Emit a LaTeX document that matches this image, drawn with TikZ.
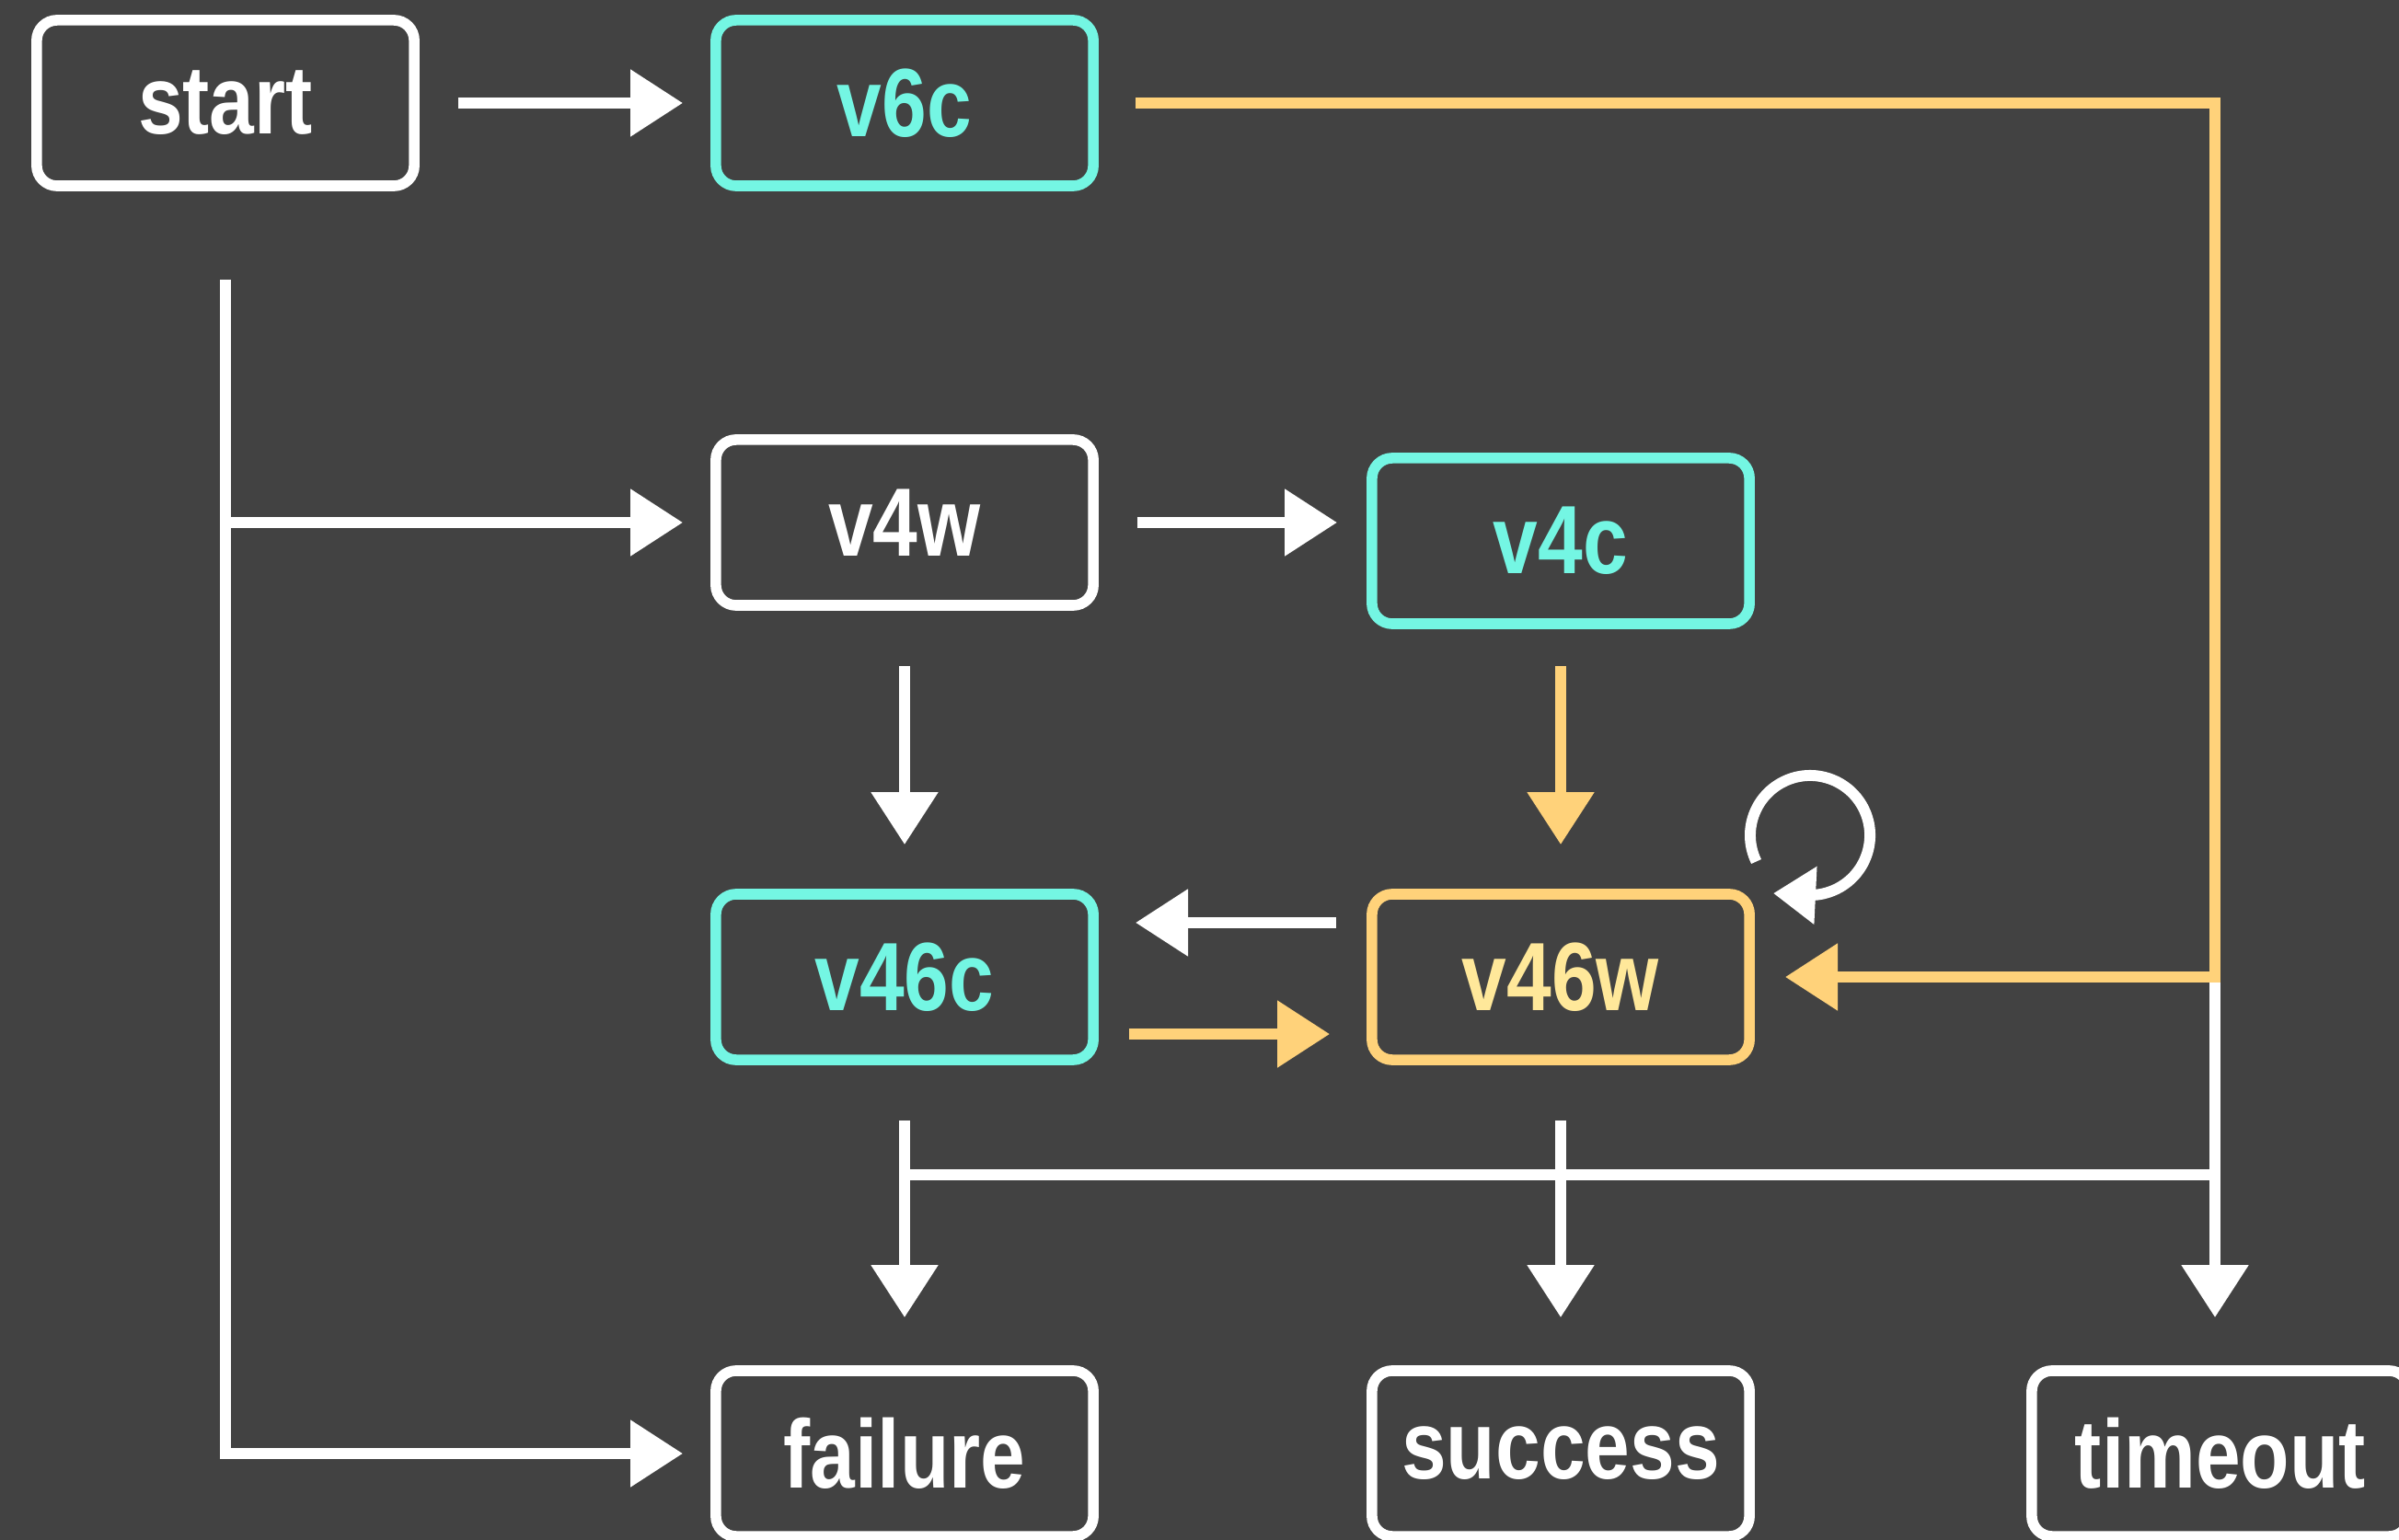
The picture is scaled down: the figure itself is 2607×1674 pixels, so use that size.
\documentclass[tikz,border=0pt]{standalone}
\usepackage{fontspec}
\usepackage{graphicx}
\setmainfont{Liberation Sans}
\usetikzlibrary{arrows.meta,calc}
\definecolor{bg}{HTML}{424242}
\definecolor{chalkw}{HTML}{FFFFFF}
\definecolor{chalkc}{HTML}{74F6E3}
\definecolor{chalky}{HTML}{FFD27A}
\definecolor{texty}{HTML}{FFE89A}
\newcommand{\lbl}[1]{\scalebox{0.83}[1]{#1}}
\tikzset{
  box/.style={draw=chalkw, line width=3.3pt, rounded corners=0.22cm,
    minimum width=4.1cm, minimum height=1.8cm, inner sep=0pt,
    text=chalkw, font=\fontsize{30}{32}\selectfont\bfseries},
  cbox/.style={box, draw=chalkc, text=chalkc},
  ybox/.style={box, draw=chalky, text=texty},
  wline/.style={draw=chalkw, line width=3.4pt},
  yline/.style={draw=chalky, line width=3.4pt},
  tipw/.style={-{Triangle[length=5.7mm,width=7mm]}},
  warr/.style={wline, tipw},
  yarr/.style={yline, tipw},
}
\begin{document}
\begin{tikzpicture}[x=0.01cm,y=-0.01cm]
\fill[bg] (0,0) rectangle (2607,1674);
\useasboundingbox (0,0) rectangle (2607,1674);

\node[box]  (start)   at (245,112)  {\lbl{start}};
\node[cbox] (v6c)     at (983,112)  {\lbl{v6c}};
\node[box]  (v4w)     at (983,568)  {\lbl{v4w}};
\node[cbox] (v4c)     at (1696,588) {\lbl{v4c}};
\node[cbox] (v46c)    at (983,1062) {\lbl{v46c}};
\node[ybox] (v46w)    at (1696,1062){\lbl{v46w}};
\node[box]  (failure) at (983,1580) {\lbl{failure}};
\node[box]  (success) at (1696,1580){\lbl{success}};
\node[box]  (timeout) at (2413,1580){\lbl{timeout}};

\coordinate (rt)  at (2407,1062);
\coordinate (bus) at (2407,1277);
\coordinate (lp)  at (1967,908);

% start -> v6c
\draw[warr, shorten <=0.42cm, shorten >=0.3cm] (start.east) -- (v6c.west);
% start -> v4w, failure
\draw[warr, shorten <=0.96cm, shorten >=0.3cm] (start.south) |- (failure.west);
\draw[warr, shorten >=0.3cm] (start.south |- v4w.west) -- (v4w.west);
% v4w -> v4c
\draw[warr, shorten <=0.42cm, shorten >=0.32cm] (v4w.east) -- (v4w.east -| v4c.west);
% v4w -> v46c
\draw[warr, shorten <=0.6cm, shorten >=0.48cm] (v4w.south) -- (v46c.north);
% v4c -> v46w
\draw[yarr, shorten <=0.4cm, shorten >=0.48cm] (v4c.south) -- (v46w.north);
% v46w -> v46c
\draw[warr, shorten <=0.33cm, shorten >=0.4cm] ([yshift=0.59cm]v46w.west) -- ([yshift=0.59cm]v46c.east);
% v46c -> v46w
\draw[yarr, shorten <=0.33cm, shorten >=0.4cm] ([yshift=-0.62cm]v46c.east) -- ([yshift=-0.62cm]v46w.west);
% self loop
\draw[wline, -{Triangle[length=4.6mm,width=6mm]}] ($(lp)+(206:0.65cm)$) arc[start angle=206, end angle=-90, radius=0.65cm] -- ++(-0.4cm,0.02cm);
% bottom bus
\draw[wline] (v46c.south |- bus) -- (bus);
\draw[warr, shorten <=0.6cm, shorten >=0.52cm] (v46c.south) -- (failure.north);
\draw[warr, shorten <=0.6cm, shorten >=0.52cm] (v46w.south) -- (success.north);
\draw[warr, shorten >=0.52cm] (rt) -- (rt |- timeout.north);
% v6c -> v46w (yellow)
\draw[yarr, shorten <=0.4cm, shorten >=0.33cm] (v6c.east) -| (rt) -- (v46w.east);
\end{tikzpicture}
\end{document}
